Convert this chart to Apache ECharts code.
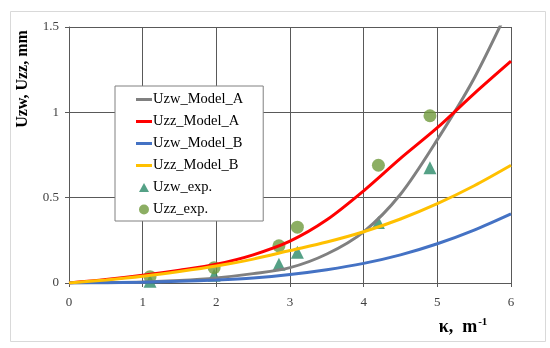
<!DOCTYPE html>
<html><head><meta charset="utf-8">
<script src="https://cdn.jsdelivr.net/npm/echarts@6/dist/echarts.min.js"></script>
<style>html,body{margin:0;padding:0;background:#fff}#c{width:550px;height:348px}</style>
</head><body><div id="c"></div>
<script>
const xModel = [0,0.5,1,1.5,2,2.5,3,3.5,4,4.5,5,5.5,6];
const uzwModelA = [0,0.002,0.006,0.015,0.03,0.055,0.09,0.17,0.30,0.52,0.84,1.2,1.64];
const uzzModelA = [0,0.02,0.045,0.075,0.11,0.165,0.245,0.37,0.54,0.73,0.91,1.11,1.30];
const uzwModelB = [0,0.002,0.005,0.01,0.018,0.03,0.05,0.078,0.115,0.165,0.23,0.31,0.405];
const uzzModelB = [0,0.018,0.04,0.068,0.10,0.14,0.19,0.24,0.30,0.375,0.465,0.57,0.69];
const xExp = [1.1,1.97,2.85,3.1,4.2,4.9];
const uzwExp = [0.01,0.045,0.11,0.18,0.355,0.675];
const uzzExp = [0.037,0.09,0.218,0.327,0.69,0.98];
const xTicks = [0,1,2,3,4,5,6];
const yTicks = [0,0.5,1,1.5];
const names = ['Uzw_Model_A','Uzz_Model_A','Uzw_Model_B','Uzz_Model_B','Uzw_exp.','Uzz_exp.'];

const pair = (xs, ys) => xs.map((x,i)=>[x, ys[i]]);
const font = 'Liberation Serif';
const chart = echarts.init(document.getElementById('c'));
const lineS = (name, ys, color) => ({
  name, type:'line', data: pair(xModel, ys), smooth: 0.3, showSymbol:false, symbol:'none',
  lineStyle:{color, width:3}, itemStyle:{color}, clip:true
});
const lineIcon = 'path://M0,6 L16,6 L16,9 L0,9 Z';
chart.setOption({
  animation:false,
  backgroundColor:'#fff',
  grid:{left:69, right:39, top:27, bottom:65},
  xAxis:{type:'value', min:0, max:6, interval:1,
    axisLine:{lineStyle:{color:'#595959', width:1}},
    axisTick:{show:true, length:4, lineStyle:{color:'#595959'}},
    axisLabel:{color:'#404040', fontFamily:font, fontSize:13, margin:13,
      formatter:v=> xTicks.includes(v)? String(v):''},
    splitLine:{show:true, lineStyle:{color:'#595959', width:1}}},
  yAxis:{type:'value', min:0, max:1.5, interval:0.5,
    axisLine:{show:true, lineStyle:{color:'#595959', width:1}},
    axisTick:{show:true, length:4, lineStyle:{color:'#595959'}},
    axisLabel:{color:'#404040', fontFamily:font, fontSize:13, margin:10,
      formatter:v=> yTicks.includes(v)? String(v):''},
    splitLine:{show:true, lineStyle:{color:'#595959', width:1}}},
  legend:{orient:'vertical', left:115, top:86,
    backgroundColor:'#fff', borderColor:'#808080', borderWidth:1,
    padding:[6,20,4,21], itemGap:7, itemWidth:16, itemHeight:14,
    textStyle:{fontFamily:font, fontSize:14.5, color:'#000', padding:[0,0,0,-4]},
    data:[
      {name:names[0], icon:lineIcon},
      {name:names[1], icon:lineIcon},
      {name:names[2], icon:lineIcon},
      {name:names[3], icon:lineIcon},
      {name:names[4], icon:'path://M0,0 M16,14 M8,2.5 L13,11.5 L3,11.5 Z'},
      {name:names[5], icon:'path://M0,0 M16,14 M8,2 A5,5 0 1 1 7.99,2 Z'}
    ]},
  graphic:[
    {type:'rect', left:8, top:9, shape:{width:535, height:330}, silent:true, z:-10,
      style:{fill:'none', stroke:'#d9d9d9', lineWidth:1}},
    {type:'text', x:23, y:79, rotation:Math.PI/2,
      style:{text:'Uzw, Uzz, mm', fontFamily:font, fontSize:16, fontWeight:'bold', fill:'#000',
        align:'center', verticalAlign:'middle'}},
    {type:'text', x:463, y:327,
      style:{text:'{a|κ,  m}{s|-1}', align:'center', verticalAlign:'middle',
        rich:{a:{fontFamily:font, fontSize:18, fontWeight:'bold', fill:'#000'},
              s:{fontFamily:font, fontSize:11, fontWeight:'bold', fill:'#000', verticalAlign:'bottom', padding:[0,0,9,1]}}}}
  ],
  series:[
    lineS(names[0], uzwModelA, '#808080'),
    lineS(names[1], uzzModelA, '#ff0000'),
    lineS(names[2], uzwModelB, '#4472c4'),
    lineS(names[3], uzzModelB, '#ffc000'),
    {name:names[4], type:'scatter', data:pair(xExp, uzwExp), symbol:'triangle', symbolSize:[13,13],
      itemStyle:{color:'#2a8a68'}},
    {name:names[5], type:'scatter', data:pair(xExp, uzzExp), symbol:'circle', symbolSize:13,
      itemStyle:{color:'#6f9a3c'}}
  ]
});
</script></body></html>
